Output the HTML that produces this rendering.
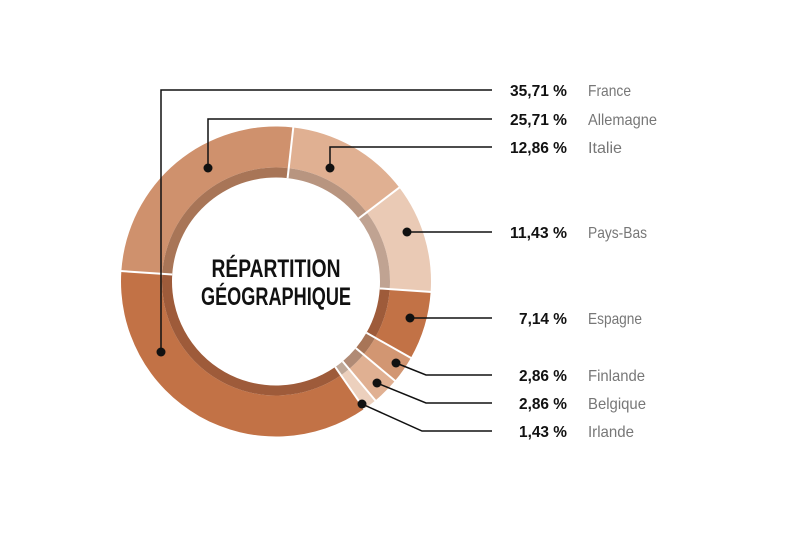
<!DOCTYPE html>
<html><head><meta charset="utf-8"><style>
html,body{margin:0;padding:0;background:#fff;}
svg{display:block;}
.p{font-family:"Liberation Sans",sans-serif;font-weight:bold;font-size:16px;fill:#111;}
.n{font-family:"Liberation Sans",sans-serif;font-size:16px;fill:#777;}
.t{font-family:"Liberation Sans",sans-serif;font-weight:bold;font-size:25px;fill:#111;}
</style></head><body>
<svg id="s" width="791" height="548" viewBox="0 0 791 548" xmlns="http://www.w3.org/2000/svg">
<g id="ring"></g>
<g stroke="#111" stroke-width="1.5" fill="none">
<polyline points="161,352 161,90 492,90"/>
<polyline points="208,168 208,119 492,119"/>
<polyline points="330,168 330,147 492,147"/>
<polyline points="407,232 492,232"/>
<polyline points="410,318 492,318"/>
<polyline points="396,363 426,375 492,375"/>
<polyline points="377,383 426,403 492,403"/>
<polyline points="362,404 422,431 492,431"/>
</g>
<g fill="#111">
<circle cx="161" cy="352" r="4.5"/><circle cx="208" cy="168" r="4.5"/><circle cx="330" cy="168" r="4.5"/>
<circle cx="407" cy="232" r="4.5"/><circle cx="410" cy="318" r="4.5"/><circle cx="396" cy="363" r="4.5"/>
<circle cx="377" cy="383" r="4.5"/><circle cx="362" cy="404" r="4.5"/>
</g>
<text class="t" x="276" y="277" text-anchor="middle" textLength="129" lengthAdjust="spacingAndGlyphs">RÉPARTITION</text>
<text class="t" x="276" y="305" text-anchor="middle" textLength="150" lengthAdjust="spacingAndGlyphs">GÉOGRAPHIQUE</text>
<g>
<text class="p" x="567" y="96" text-anchor="end" textLength="57" lengthAdjust="spacingAndGlyphs">35,71 %</text>
<text class="p" x="567" y="125" text-anchor="end" textLength="57" lengthAdjust="spacingAndGlyphs">25,71 %</text>
<text class="p" x="567" y="153" text-anchor="end" textLength="57" lengthAdjust="spacingAndGlyphs">12,86 %</text>
<text class="p" x="567" y="238" text-anchor="end" textLength="57" lengthAdjust="spacingAndGlyphs">11,43 %</text>
<text class="p" x="567" y="324" text-anchor="end" textLength="48" lengthAdjust="spacingAndGlyphs">7,14 %</text>
<text class="p" x="567" y="381" text-anchor="end" textLength="48" lengthAdjust="spacingAndGlyphs">2,86 %</text>
<text class="p" x="567" y="409" text-anchor="end" textLength="48" lengthAdjust="spacingAndGlyphs">2,86 %</text>
<text class="p" x="567" y="437" text-anchor="end" textLength="48" lengthAdjust="spacingAndGlyphs">1,43 %</text>
<text class="n" x="588" y="96" textLength="43" lengthAdjust="spacingAndGlyphs">France</text>
<text class="n" x="588" y="125" textLength="69" lengthAdjust="spacingAndGlyphs">Allemagne</text>
<text class="n" x="588" y="153" textLength="34" lengthAdjust="spacingAndGlyphs">Italie</text>
<text class="n" x="588" y="238" textLength="59" lengthAdjust="spacingAndGlyphs">Pays-Bas</text>
<text class="n" x="588" y="324" textLength="54" lengthAdjust="spacingAndGlyphs">Espagne</text>
<text class="n" x="588" y="381" textLength="57" lengthAdjust="spacingAndGlyphs">Finlande</text>
<text class="n" x="588" y="409" textLength="58" lengthAdjust="spacingAndGlyphs">Belgique</text>
<text class="n" x="588" y="437" textLength="46" lengthAdjust="spacingAndGlyphs">Irlande</text>
</g>
</svg>
<script>
(function(){
var cx=276,cy=281.5,R=155,Rb=114,Ri=104;
var segs=[[12.86,"#e0b092","#b89580"],[11.43,"#eacab5","#c0a392"],[7.14,"#c27246","#9e5b3a"],[2.86,"#d29672","#a87557"],[2.86,"#e0b092","#b08a75"],[1.43,"#ecd0bd","#bfa898"],[35.71,"#c27246","#9e5b3a"],[25.71,"#cf916d","#a87557"]];
var a=6.4,g=document.getElementById("ring"),h="";
function pt(r,d){var t=d*Math.PI/180;return (cx+r*Math.sin(t)).toFixed(2)+","+(cy-r*Math.cos(t)).toFixed(2);}
function arc(r1,r2,a1,a2,c){var l=(a2-a1)>180?1:0;return '<path fill="'+c+'" d="M'+pt(r2,a1)+' A'+r2+','+r2+' 0 '+l+' 1 '+pt(r2,a2)+' L'+pt(r1,a2)+' A'+r1+','+r1+' 0 '+l+' 0 '+pt(r1,a1)+'Z"/>';}
var lines="";
segs.forEach(function(s){var b=a+s[0]*3.6;h+=arc(Rb,R,a,b,s[1]);h+=arc(Ri,Rb,a,b,s[2]);lines+='<line x1="'+pt(Ri,a).split(",")[0]+'" y1="'+pt(Ri,a).split(",")[1]+'" x2="'+pt(R+1,a).split(",")[0]+'" y2="'+pt(R+1,a).split(",")[1]+'" stroke="#fff" stroke-width="2"/>';a=b;});
g.innerHTML=h+lines;
})();
</script>
</body></html>
